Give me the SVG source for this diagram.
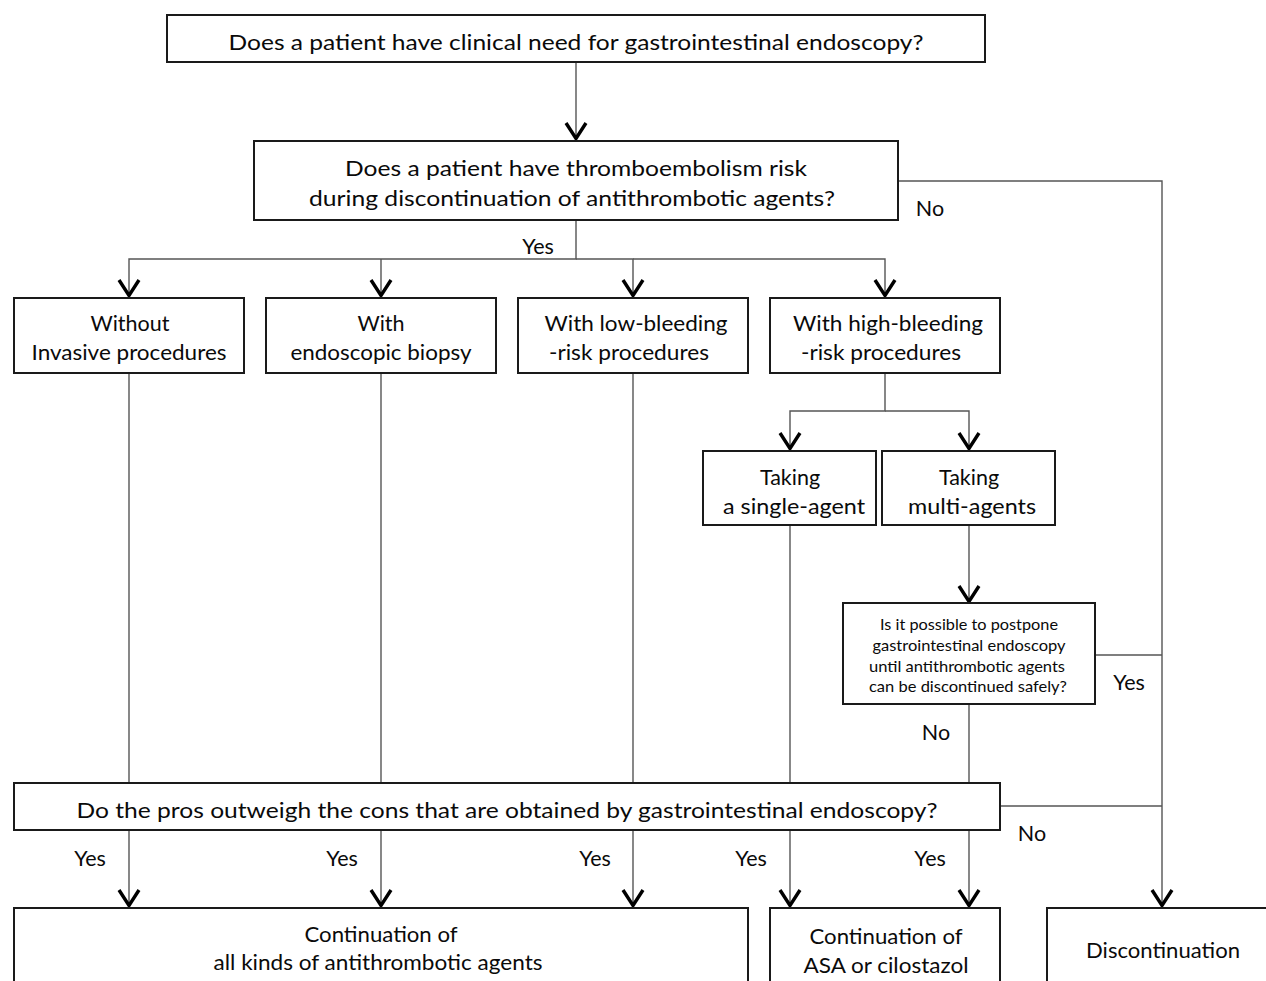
<svg xmlns="http://www.w3.org/2000/svg" width="1266" height="981" viewBox="0 0 1266 981">
<style>
.box{fill:#fff;stroke:#1a1a1a;stroke-width:2}
.t{font-family:Lato,"Open Sans","Liberation Sans",sans-serif;font-size:21.5px;fill:#0a0a0a;text-anchor:middle}
.s{font-size:15px}
.ln{fill:none;stroke:#555;stroke-width:1.4}
</style>
<defs>
<marker id="ah" markerUnits="userSpaceOnUse" viewBox="-20 -13 22 26" refX="0" refY="0" markerWidth="22" markerHeight="26" orient="auto">
<path d="M-16,-10 L-0.5,0 L-16,10" fill="none" stroke="#000" stroke-width="3.4"/>
</marker>
</defs>
<rect width="1266" height="981" fill="#fff"/>
<g id="connectors">
<path class="ln" d="M576,62 V139" marker-end="url(#ah)"/>
<path class="ln" d="M898,181 H1162 V906" marker-end="url(#ah)"/>
<path class="ln" d="M576,220 V259 H129 V296" marker-end="url(#ah)"/>
<path class="ln" d="M381,259 V296" marker-end="url(#ah)"/>
<path class="ln" d="M576,259 H633 V296" marker-end="url(#ah)"/>
<path class="ln" d="M633,259 H885 V296" marker-end="url(#ah)"/>
<path class="ln" d="M885,373 V411 H790 V449" marker-end="url(#ah)"/>
<path class="ln" d="M885,411 H969 V449" marker-end="url(#ah)"/>
<path class="ln" d="M969,525 V602" marker-end="url(#ah)"/>
<path class="ln" d="M1095,655 H1162"/>
<path class="ln" d="M969,704 V783"/>
<path class="ln" d="M129,373 V783"/>
<path class="ln" d="M381,373 V783"/>
<path class="ln" d="M633,373 V783"/>
<path class="ln" d="M790,525 V783"/>
<path class="ln" d="M1000,806 H1162"/>
<path class="ln" d="M129,830 V906" marker-end="url(#ah)"/>
<path class="ln" d="M381,830 V906" marker-end="url(#ah)"/>
<path class="ln" d="M633,830 V906" marker-end="url(#ah)"/>
<path class="ln" d="M790,830 V906" marker-end="url(#ah)"/>
<path class="ln" d="M969,830 V906" marker-end="url(#ah)"/>
<text class="t" x="538" y="254">Yes</text>
<text class="t" x="930" y="216">No</text>
<text class="t" x="1129" y="690">Yes</text>
<text class="t" x="936" y="740">No</text>
<text class="t" x="1032" y="841">No</text>
<text class="t" x="90" y="866">Yes</text>
<text class="t" x="342" y="866">Yes</text>
<text class="t" x="595" y="866">Yes</text>
<text class="t" x="751" y="866">Yes</text>
<text class="t" x="930" y="866">Yes</text>
</g>
<g id="n-need">
<rect class="box" x="167" y="15" width="818" height="47"/>
<text class="t" x="576" y="50" textLength="695" lengthAdjust="spacingAndGlyphs">Does a patient have clinical need for gastrointestinal endoscopy?</text>
</g>
<g id="n-risk">
<rect class="box" x="254" y="141" width="644" height="79"/>
<text class="t" x="576" y="176" textLength="462" lengthAdjust="spacingAndGlyphs">Does a patient have thromboembolism risk</text>
<text class="t" x="572" y="206" textLength="526" lengthAdjust="spacingAndGlyphs">during discontinuation of antithrombotic agents?</text>
</g>
<g id="n-without">
<rect class="box" x="14" y="298" width="230" height="75"/>
<text class="t" x="130" y="331">Without</text>
<text class="t" x="129" y="360" textLength="195" lengthAdjust="spacingAndGlyphs">Invasive procedures</text>
</g>
<g id="n-biopsy">
<rect class="box" x="266" y="298" width="230" height="75"/>
<text class="t" x="381" y="331">With</text>
<text class="t" x="381" y="360" textLength="181" lengthAdjust="spacingAndGlyphs">endoscopic biopsy</text>
</g>
<g id="n-low">
<rect class="box" x="518" y="298" width="230" height="75"/>
<text class="t" x="636" y="331" textLength="183" lengthAdjust="spacingAndGlyphs">With low-bleeding</text>
<text class="t" x="629" y="360" textLength="160" lengthAdjust="spacingAndGlyphs">-risk procedures</text>
</g>
<g id="n-high">
<rect class="box" x="770" y="298" width="230" height="75"/>
<text class="t" x="888" y="331" textLength="190" lengthAdjust="spacingAndGlyphs">With high-bleeding</text>
<text class="t" x="881" y="360" textLength="160" lengthAdjust="spacingAndGlyphs">-risk procedures</text>
</g>
<g id="n-single">
<rect class="box" x="703" y="451" width="173" height="74"/>
<text class="t" x="790" y="485">Taking</text>
<text class="t" x="794" y="514" textLength="142" lengthAdjust="spacingAndGlyphs">a single-agent</text>
</g>
<g id="n-multi">
<rect class="box" x="882" y="451" width="173" height="74"/>
<text class="t" x="969" y="485">Taking</text>
<text class="t" x="972" y="514" textLength="128" lengthAdjust="spacingAndGlyphs">multi-agents</text>
</g>
<g id="n-postpone">
<rect class="box" x="843" y="603" width="252" height="101"/>
<text class="t s" x="969" y="630" textLength="178" lengthAdjust="spacingAndGlyphs">Is it possible to postpone</text>
<text class="t s" x="969" y="651" textLength="193" lengthAdjust="spacingAndGlyphs">gastrointestinal endoscopy</text>
<text class="t s" x="967" y="672" textLength="196" lengthAdjust="spacingAndGlyphs">until antithrombotic agents</text>
<text class="t s" x="968" y="692" textLength="198" lengthAdjust="spacingAndGlyphs">can be discontinued safely?</text>
</g>
<g id="n-pros">
<rect class="box" x="14" y="783" width="986" height="47"/>
<text class="t" x="507" y="818" textLength="861" lengthAdjust="spacingAndGlyphs">Do the pros outweigh the cons that are obtained by gastrointestinal endoscopy?</text>
</g>
<g id="n-contall">
<rect class="box" x="14" y="908" width="734" height="90"/>
<text class="t" x="381" y="942" textLength="153" lengthAdjust="spacingAndGlyphs">Continuation of</text>
<text class="t" x="378" y="970" textLength="329" lengthAdjust="spacingAndGlyphs">all kinds of antithrombotic agents</text>
</g>
<g id="n-contasa">
<rect class="box" x="770" y="908" width="230" height="90"/>
<text class="t" x="886" y="944" textLength="153" lengthAdjust="spacingAndGlyphs">Continuation of</text>
<text class="t" x="886" y="973" textLength="165" lengthAdjust="spacingAndGlyphs">ASA or cilostazol</text>
</g>
<g id="n-discont">
<rect class="box" x="1047" y="908" width="230" height="90"/>
<text class="t" x="1163" y="958" textLength="154" lengthAdjust="spacingAndGlyphs">Discontinuation</text>
</g>
</svg>
